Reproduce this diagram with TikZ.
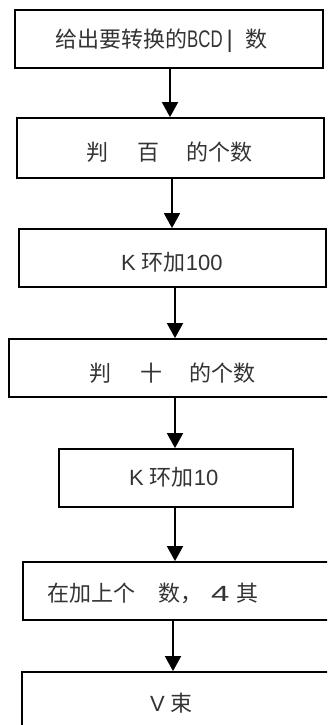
\documentclass[tikz,border=0pt]{standalone}
\usepackage{fontspec}
\usepackage{graphicx}
\setmainfont{Noto Sans CJK SC}
\newfontfamily\lat{Liberation Sans}
\usetikzlibrary{arrows.meta}
\tikzset{
  box/.style={draw=black, line width=1.8pt, rectangle, inner sep=0pt},
  lbl/.style={text=black!80, inner sep=0pt, anchor=west, font=\fontsize{22}{22}\selectfont},
  arr/.style={line width=1.8pt, -{Triangle[width=16pt,length=15pt]}}
}
\newcommand{\mkbox}[5]{\node[box, minimum width={#4-#2}, minimum height={#5-#3}] (#1) at ({(#2+#4)/2},{(#3+#5)/2}) {};}
\begin{document}
\begin{tikzpicture}[x=1pt,y=-1pt]
\useasboundingbox (0,0) rectangle (327,725);
\clip (0,0) rectangle (327,725);
\mkbox{b1}{15}{10}{323}{68}
\mkbox{b2}{17}{118}{324}{178}
\mkbox{b3}{19}{229}{326}{287}
\mkbox{b4}{9}{339}{345}{397}
\mkbox{b5}{59}{449}{293}{507}
\mkbox{b6}{23}{562}{345}{620}
\mkbox{b7}{22}{672}{345}{760}
\node[lbl] (t1) at (55,41) {给出要转换的{\lat\fontsize{24}{24}\selectfont\scalebox{0.7}[1]{BCD}\hspace{4pt}|}\hspace{13pt}数};
\node[lbl] (t2) at (86,152) {判\hspace{29pt}百\hspace{27pt}的个数};
\node[lbl] (t3) at (121,262) {{\lat K }环加{\lat 100}};
\node[lbl] (t4) at (89,373) {判\hspace{29pt}十\hspace{27pt}的个数};
\node[lbl] (t5) at (129,477) {{\lat K }环加{\lat 10}};
\node[lbl] (t6) at (47,593) {在加上个\hspace{23pt}数，\hspace{9pt}{\lat\scalebox{1.5}[1]{4}}\hspace{7pt}其};
\node[lbl] (t7) at (150,703) {{\lat V }束};
\draw[arr] (b1.south -| 170,0) -- (b2.north -| 170,0);
\draw[arr] (b2.south -| 172,0) -- (b3.north -| 172,0);
\draw[arr] (b3.south -| 175,0) -- (b4.north -| 175,0);
\draw[arr] (b4.south -| 175,0) -- (b5.north -| 175,0);
\draw[arr] (b5.south -| 175,0) -- (b6.north -| 175,0);
\draw[arr] (b6.south -| 173,0) -- (b7.north -| 173,0);
\end{tikzpicture}
\end{document}
